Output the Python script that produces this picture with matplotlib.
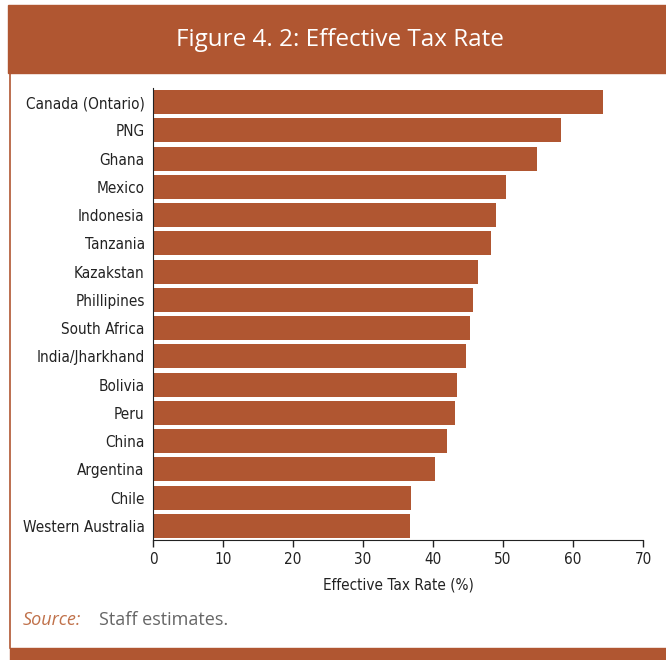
import matplotlib.pyplot as plt
from matplotlib.patches import Rectangle
from matplotlib.lines import Line2D
from matplotlib import font_manager

countries = [
    "Canada (Ontario)", "PNG", "Ghana", "Mexico", "Indonesia", "Tanzania",
    "Kazakstan", "Phillipines", "South Africa", "India/Jharkhand", "Bolivia",
    "Peru", "China", "Argentina", "Chile", "Western Australia",
]
rates = [64.3, 58.3, 54.9, 50.4, 49.0, 48.3, 46.4, 45.7, 45.3, 44.7,
         43.4, 43.1, 42.0, 40.3, 36.9, 36.7]
xticks = [0, 10, 20, 30, 40, 50, 60, 70]

BROWN = "#b05631"
narrow = font_manager.FontProperties(family="DejaVu Sans", stretch="condensed", size=11)

fig = plt.figure(figsize=(6.66, 6.60), dpi=100)
W, H = 666, 660


def px(x, y):
    return x / W, 1 - y / H


# header band and frame
fig.patches.append(Rectangle((8 / W, 1 - 73 / H), 1, 68 / H, transform=fig.transFigure,
                             color=BROWN, zorder=0))
fig.patches.append(Rectangle((10 / W, 1 - 660 / H), 1, 12 / H, transform=fig.transFigure,
                             color=BROWN, zorder=0))
fig.lines.append(Line2D([10.5 / W, 10.5 / W], [1 - 73 / H, 1 - 648 / H],
                        transform=fig.transFigure, color=BROWN, lw=1.2))
fig.text(*px(340, 40), "Figure 4. 2: Effective Tax Rate", color="white", fontsize=17.5,
         ha="center", va="center", family=["Open Sans", "DejaVu Sans"], fontweight="medium")

ax = fig.add_axes([153 / W, 1 - 540 / H, 490 / W, 452 / H])
ypos = list(range(len(countries)))
ax.barh(ypos, rates, height=0.85, color=BROWN)
ax.set_ylim(len(countries) - 0.5, -0.5)
ax.set_xlim(0, 70)
ax.set_yticks(ypos)
ax.set_yticklabels(countries, fontproperties=narrow, color="#222222")
ax.set_xticks(xticks)
ax.set_xticklabels([str(t) for t in xticks], fontproperties=narrow, color="#222222")
ax.tick_params(axis="y", length=0, pad=6)
ax.tick_params(axis="x", length=5, width=1, direction="out", pad=4, color="#222222")
for s in ["top", "right"]:
    ax.spines[s].set_visible(False)
ax.spines["left"].set_color("#222222")
ax.spines["bottom"].set_color("#222222")
ax.set_xlabel("Effective Tax Rate (%)", fontproperties=narrow, color="#222222", labelpad=7)

fig.text(*px(23, 620), "Source:", color="#c0714a", fontsize=13, style="italic",
         ha="left", va="center", family=["Open Sans", "DejaVu Sans"])
fig.text(*px(99, 620), "Staff estimates.", color="#666666", fontsize=13,
         ha="left", va="center", family=["Open Sans", "DejaVu Sans"])

fig.savefig("out.png", dpi=100)
